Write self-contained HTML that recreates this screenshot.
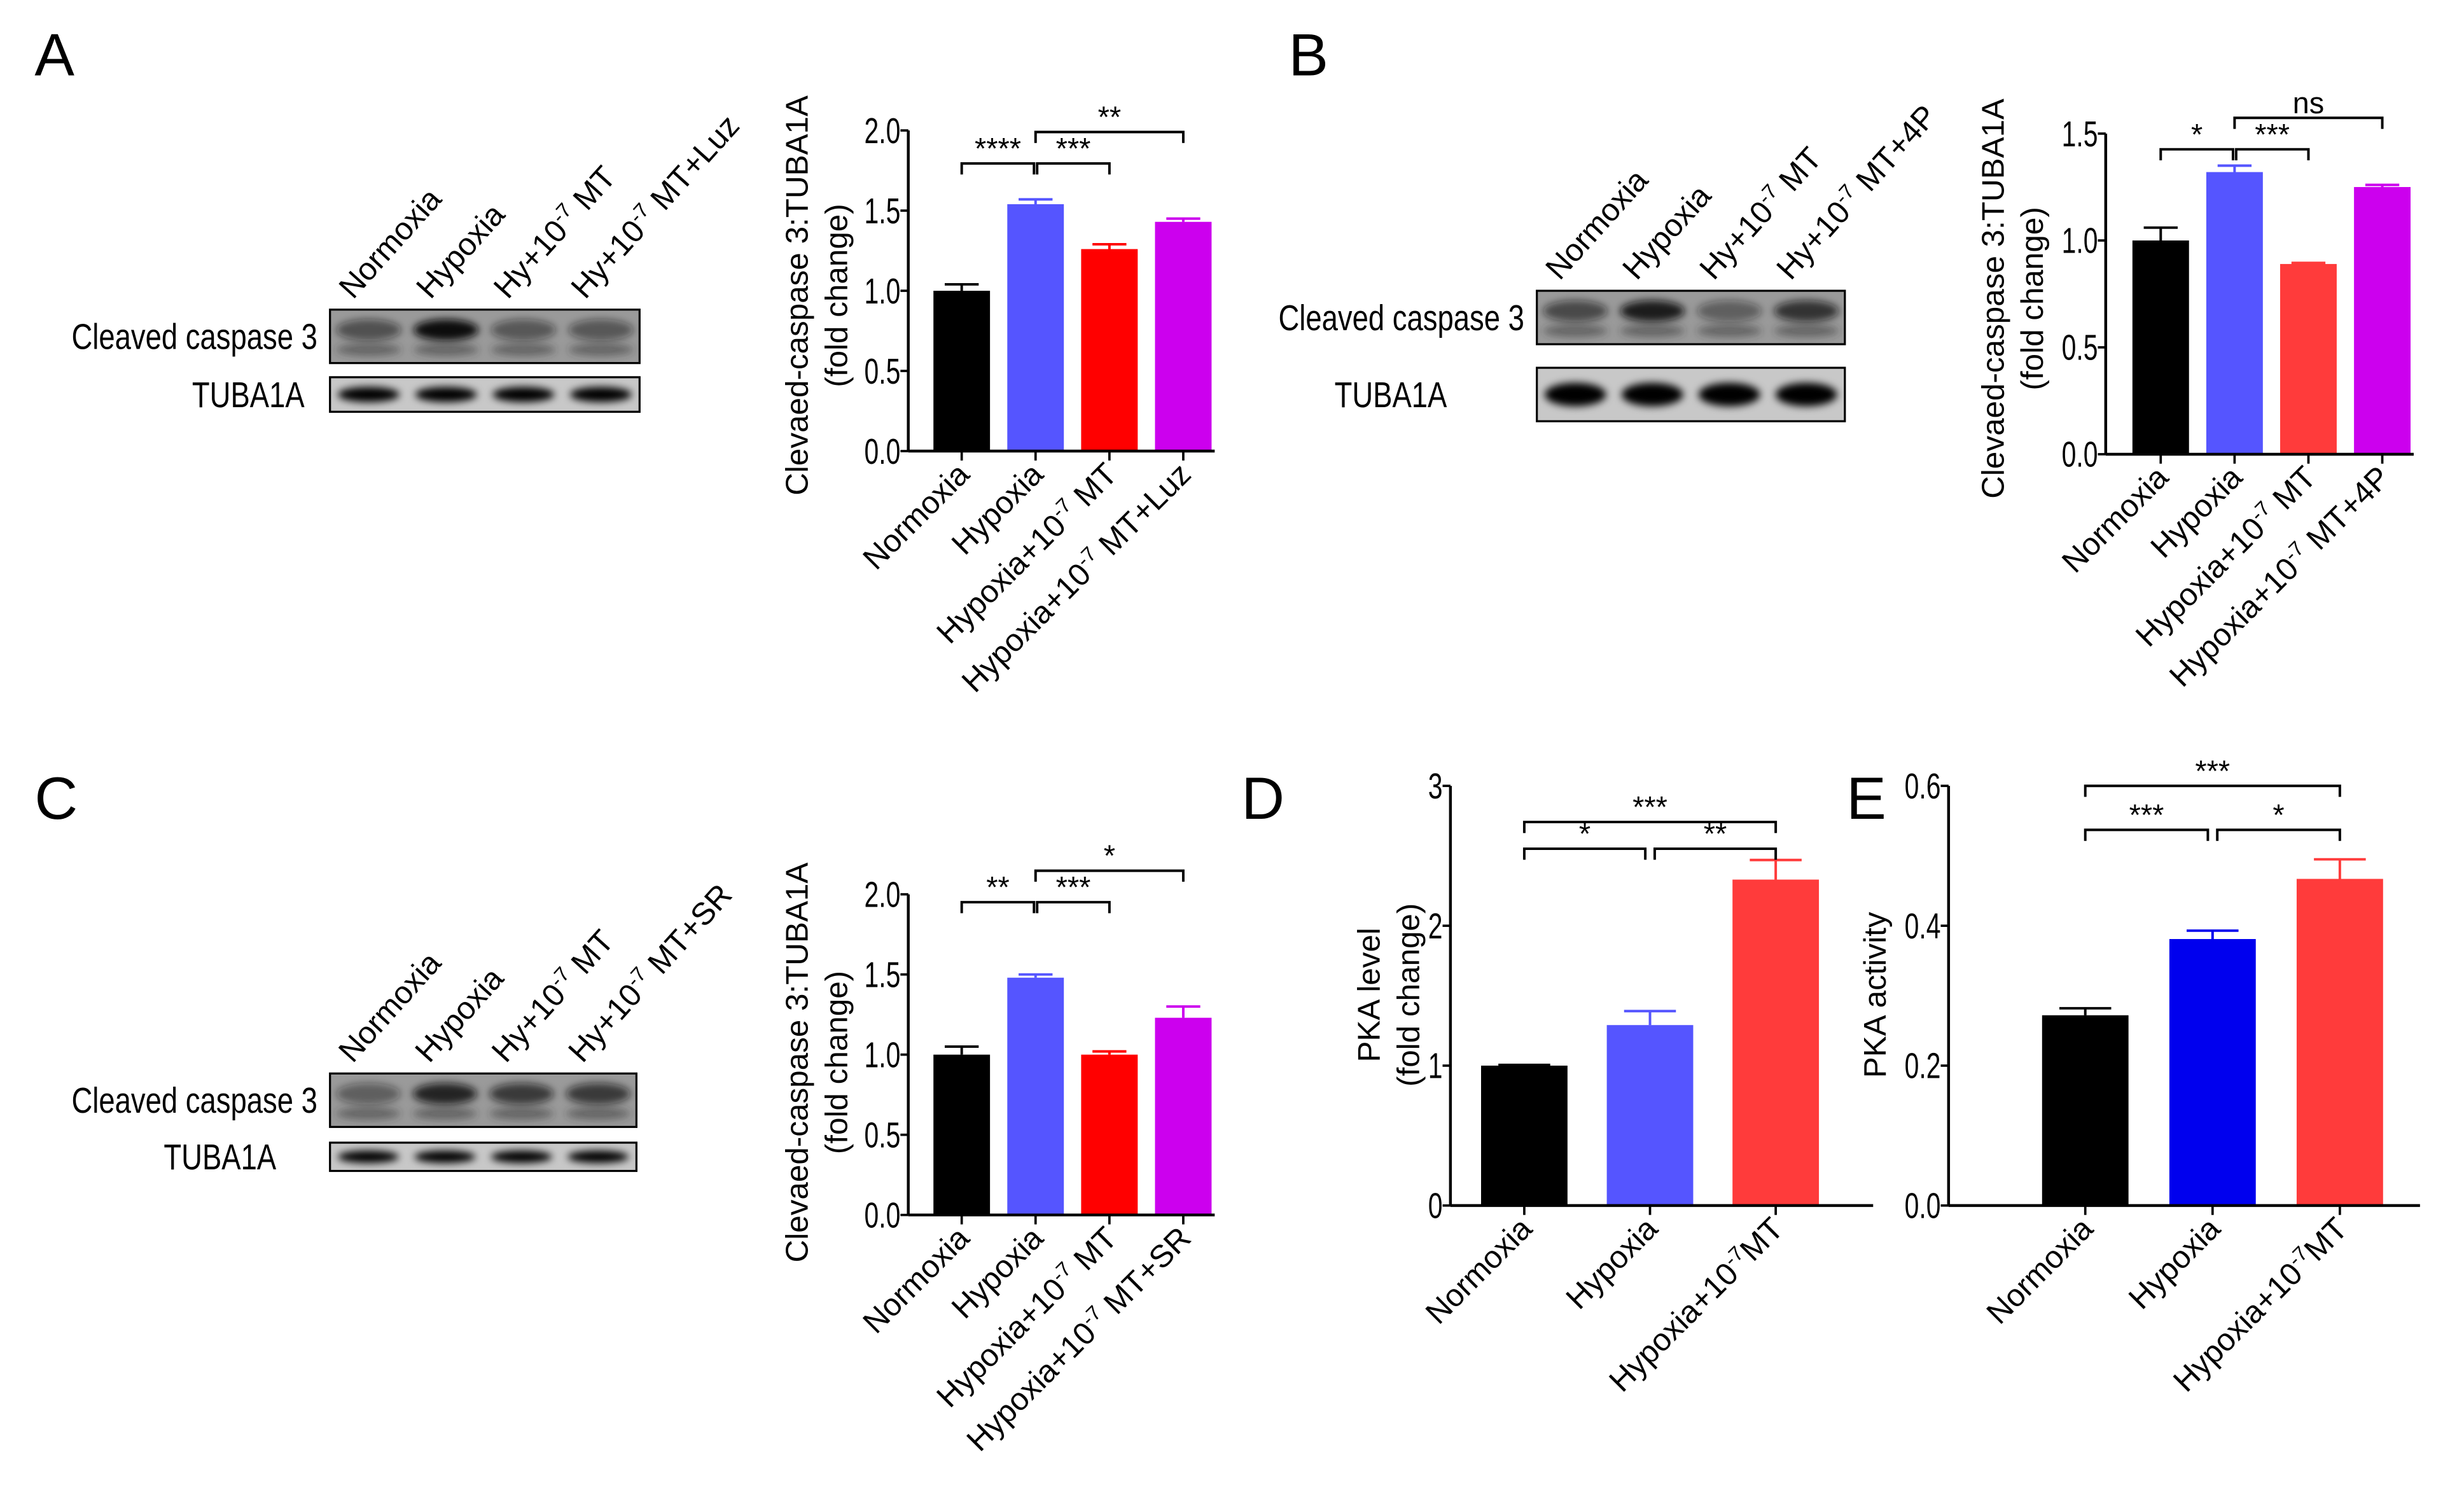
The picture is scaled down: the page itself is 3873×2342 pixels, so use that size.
<!DOCTYPE html>
<html><head><meta charset="utf-8"><style>
html,body{margin:0;padding:0;background:#fff}
svg{display:block;font-family:"Liberation Sans",Arial,sans-serif}
</style></head><body>
<svg id="fig" width="3873" height="2342" viewBox="0 0 1568 948" preserveAspectRatio="none" xmlns="http://www.w3.org/2000/svg">
<defs><filter id="blur" x="-20%" y="-50%" width="140%" height="200%"><feGaussianBlur stdDeviation="2.5"/></filter></defs>
<text x="22" y="48" font-size="38">A</text>
<text x="820" y="48" font-size="38">B</text>
<text x="22" y="521" font-size="38">C</text>
<text x="790" y="521" font-size="38">D</text>
<text x="1175" y="521" font-size="38">E</text>
<g id="root"></g>
</svg>
<script>
// ---- data ----
const catsA = ["Normoxia","Hypoxia","Hypoxia+10|-7| MT","Hypoxia+10|-7| MT+Luz"];
const valsA = [1.0,1.54,1.26,1.43];
const errA = [0.04,0.03,0.03,0.02];
const ticksA = ["0.0","0.5","1.0","1.5","2.0"];
const catsB = ["Normoxia","Hypoxia","Hypoxia+10|-7| MT","Hypoxia+10|-7| MT+4P"];
const valsB = [1.0,1.32,0.89,1.25];
const errB = [0.06,0.03,0.005,0.01];
const ticksB = ["0.0","0.5","1.0","1.5"];
const catsC = ["Normoxia","Hypoxia","Hypoxia+10|-7| MT","Hypoxia+10|-7| MT+SR"];
const valsC = [1.0,1.48,1.0,1.23];
const errC = [0.05,0.02,0.02,0.07];
const ticksC = ["0.0","0.5","1.0","1.5","2.0"];
const catsD = ["Normoxia","Hypoxia","Hypoxia+10|-7|MT"];
const valsD = [1.0,1.29,2.33];
const errD = [0.005,0.1,0.14];
const ticksD = ["0","1","2","3"];
const catsE = ["Normoxia","Hypoxia","Hypoxia+10|-7|MT"];
const valsE = [0.272,0.381,0.467];
const errE = [0.01,0.012,0.028];
const ticksE = ["0.0","0.2","0.4","0.6"];
const lanesA = ["Normoxia","Hypoxia","Hy+10|-7| MT","Hy+10|-7| MT+Luz"];
const lanesB = ["Normoxia","Hypoxia","Hy+10|-7| MT","Hy+10|-7| MT+4P"];
const lanesC = ["Normoxia","Hypoxia","Hy+10|-7| MT","Hy+10|-7| MT+SR"];
const bandA = [0.55,1.0,0.5,0.5];
const bandB = [0.6,0.9,0.45,0.75];
const bandC = [0.45,0.85,0.7,0.7];

const NS="http://www.w3.org/2000/svg";
const root=document.getElementById('root');
function mk(tag,attrs,parent){const e=document.createElementNS(NS,tag);for(const k in attrs)e.setAttribute(k,attrs[k]);(parent||root).appendChild(e);return e;}
function richText(t,str){
  const parts=str.split('|');
  parts.forEach((p,i)=>{
    const s=document.createElementNS(NS,'tspan');
    s.textContent=p;
    if(i%2===1){s.setAttribute('baseline-shift','super');s.setAttribute('font-size','0.65em');}
    t.appendChild(s);
  });
}
function chart(o){
  const g=mk('g',{});
  
  
  const ymax=o.ymax;
  const y=v=>o.y0-(v/ymax)*(o.y0-o.ytop);
  const x=i=>o.x1+i*o.step;
  o.vals.forEach((v,i)=>{
    const r=mk('rect',{x:x(i)-o.bw/2,y:y(v),width:o.bw,height:o.y0-y(v),fill:o.colors[i]},g);
    
    
    const e=mk('path',{d:`M${x(i)},${y(v)}V${y(v+o.err[i])}M${x(i)-o.bw*0.3},${y(v+o.err[i])}H${x(i)+o.bw*0.3}`,stroke:o.colors[i],'stroke-width':1.6,fill:'none'},g);
    
    
  });
  const ya=mk('path',{d:`M${o.ax},${o.ytop}V${o.y0}`,stroke:'#000','stroke-width':1.8,fill:'none'},g);
  
  
  const xa=mk('path',{d:`M${o.ax},${o.y0}H${o.xend}`,stroke:'#000','stroke-width':1.8,fill:'none'},g);
  
  
  o.ticks.forEach((t,i)=>{
    const v=i*(ymax/(o.ticks.length-1));
    mk('path',{d:`M${o.ax-5},${y(v)}H${o.ax}`,stroke:'#000','stroke-width':1.5},g);
    const tx=mk('text',{transform:`translate(${o.ax-5},${y(v)+8}) scale(0.72,1)`,'font-size':23,'text-anchor':'end'},g);
    tx.textContent=t;
    
    
  });
  o.cats.forEach((c,i)=>{
    mk('path',{d:`M${x(i)},${o.y0}V${o.y0+6}`,stroke:'#000','stroke-width':1.5},g);
    const tx=mk('text',{transform:`translate(${x(i)+6},${o.y0+16}) rotate(-45)`,'font-size':20,'text-anchor':'end'},g);
    richText(tx,c);
    
    
  });
  o.title.forEach((t,i)=>{
    const tx=mk('text',{transform:`translate(${o.tx+i*25},${o.tyc}) rotate(-90)`,'font-size':20,'text-anchor':'middle'},g);
    tx.textContent=t;
    
    
  });
  o.sig.forEach(s=>{
    const xa=x(s[0])+(s[4]||0), xb=x(s[1])-(s[5]||0);
    const p=mk('path',{d:`M${xa},${s[2]+7}V${s[2]}H${xb}V${s[2]+7}`,stroke:'#000','stroke-width':1.6,fill:'none'},g);
    
    
    const tx=mk('text',{x:(xa+xb)/2,y:s[2]-3,'font-size':19,'text-anchor':'middle'},g);
    tx.textContent=s[3];
    
    
  });
}
function blot(o){
  const g=mk('g',{});
  
  
  const w=o.x2-o.x1, lw=w/4;
  mk('rect',{x:o.x1,y:o.c1,width:w,height:o.c2-o.c1,fill:'#9a9a9a'},g);
  o.band.forEach((b,i)=>{
    const cx=o.x1+lw*(i+0.5);
    mk('ellipse',{cx,cy:o.c1+(o.c2-o.c1)*0.38,rx:lw*0.42,ry:(o.c2-o.c1)*0.2,fill:'#111','fill-opacity':b,filter:'url(#blur)'},g);
    mk('ellipse',{cx,cy:o.c1+(o.c2-o.c1)*0.75,rx:lw*0.42,ry:(o.c2-o.c1)*0.12,fill:'#333','fill-opacity':0.5,filter:'url(#blur)'},g);
  });
  const r1=mk('rect',{x:o.x1,y:o.c1,width:w,height:o.c2-o.c1,fill:'none',stroke:'#000','stroke-width':1.3},g);
  
  
  mk('rect',{x:o.x1,y:o.t1,width:w,height:o.t2-o.t1,fill:'#c8c8c8'},g);
  o.band.forEach((b,i)=>{
    const cx=o.x1+lw*(i+0.5);
    mk('ellipse',{cx,cy:(o.t1+o.t2)/2,rx:lw*0.4,ry:Math.max(3,(o.t2-o.t1)*0.22),fill:'#000',filter:'url(#blur)'},g);
  });
  const r2=mk('rect',{x:o.x1,y:o.t1,width:w,height:o.t2-o.t1,fill:'none',stroke:'#000','stroke-width':1.3},g);
  
  
  const l1=mk('text',{transform:`translate(${o.x1-8},${(o.c1+o.c2)/2+8}) scale(0.8,1)`,'font-size':23,'text-anchor':'end'},g);
  l1.textContent='Cleaved caspase 3';
  
  
  const l2=mk('text',{transform:`translate(${o.tlx},${(o.t1+o.t2)/2+8}) scale(0.8,1)`,'font-size':23,'text-anchor':'middle'},g);
  l2.textContent='TUBA1A';
  
  
  o.lanes.forEach((c,i)=>{
    const cx=o.x1+lw*(i+0.5);
    const tx=mk('text',{transform:`translate(${cx-10},${o.c1-6}) rotate(-48)`,'font-size':20},g);
    richText(tx,c);
    
    
  });
}
const c4=['#000000','#5555ff','#ff0000','#cc00ee'];
blot({name:'blot-a',x1:210,x2:407,c1:197,c2:231,t1:240,t2:262,tlx:158,lanes:lanesA,band:bandA});
blot({name:'blot-b',x1:978,x2:1174,c1:185,c2:219,t1:234,t2:268,tlx:885,lanes:lanesB,band:bandB});
blot({name:'blot-c',x1:210,x2:405,c1:683,c2:717,t1:727,t2:745,tlx:140,lanes:lanesC,band:bandC});
chart({name:'chart-a',cats:catsA,vals:valsA,err:errA,ticks:ticksA,ymax:2.0,y0:287,ytop:83,ax:578,xend:773,x1:612,step:47,bw:36,colors:c4,
  title:['Clevaed-caspase 3:TUBA1A','(fold change)'],tx:514,tyc:188,
  sig:[[0,1,104,'****',0,1],[1,2,104,'***',1,0],[1,3,84,'**',0,0]]});
chart({name:'chart-b',cats:catsB,vals:valsB,err:errB,ticks:ticksB,ymax:1.5,y0:289,ytop:85,ax:1340,xend:1536,x1:1375,step:47,bw:36,colors:['#000','#5555ff','#ff3b3b','#cc00ee'],
  title:['Clevaed-caspase 3:TUBA1A','(fold change)'],tx:1275,tyc:190,
  sig:[[0,1,95,'*',0,1],[1,2,95,'***',1,0],[1,3,75,'ns',0,0]]});
chart({name:'chart-c',cats:catsC,vals:valsC,err:errC,ticks:ticksC,ymax:2.0,y0:773,ytop:569,ax:578,xend:773,x1:612,step:47,bw:36,colors:c4,
  title:['Clevaed-caspase 3:TUBA1A','(fold change)'],tx:514,tyc:676,
  sig:[[0,1,574,'**',0,1],[1,2,574,'***',1,0],[1,3,554,'*',0,0]]});
chart({name:'chart-d',cats:catsD,vals:valsD,err:errD,ticks:ticksD,ymax:3,y0:767,ytop:500,ax:923,xend:1192,x1:970,step:80,bw:55,colors:['#000','#5555ff','#ff3b3b'],
  title:['PKA level','(fold change)'],tx:878,tyc:633,
  sig:[[0,1,540,'*',0,3],[1,2,540,'**',3,0],[0,2,523,'***',0,0]]});
chart({name:'chart-e',cats:catsE,vals:valsE,err:errE,ticks:ticksE,ymax:0.6,y0:767,ytop:500,ax:1240,xend:1540,x1:1327,step:81,bw:55,colors:['#000','#0000ee','#ff3b3b'],
  title:['PKA activity'],tx:1200,tyc:633,
  sig:[[0,1,528,'***',0,3],[1,2,528,'*',3,0],[0,2,500,'***',0,0]]});
</script>
</body></html>
